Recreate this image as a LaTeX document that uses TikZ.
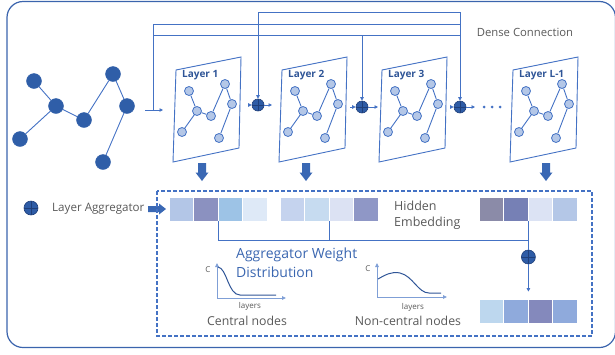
\documentclass[tikz,border=0pt]{standalone}
\usepackage{fontspec}
\setmainfont{Open Sans}
\usetikzlibrary{arrows.meta}
\definecolor{lineblue}{HTML}{4472C4}
\definecolor{nodedark}{HTML}{2F5EA8}
\definecolor{nodelight}{HTML}{B4C7E7}
\definecolor{txtgray}{HTML}{595959}
\definecolor{txtblue}{HTML}{3A66B0}
\definecolor{labblue}{HTML}{2F5597}
\definecolor{aggfill}{HTML}{2E5CA6}
\definecolor{aggdark}{HTML}{1F3F7A}
\definecolor{framecol}{HTML}{3B64AD}
\definecolor{axiscol}{HTML}{7F9FD6}
\definecolor{curvecol}{HTML}{2F5597}
\definecolor{blockcol}{HTML}{3A68B4}
% cell colours
\definecolor{ca1}{HTML}{B3C6E7}\definecolor{ca2}{HTML}{8B91C0}\definecolor{ca3}{HTML}{9DC3E6}\definecolor{ca4}{HTML}{DEE9F7}
\definecolor{cb1}{HTML}{C5D3EE}\definecolor{cb2}{HTML}{C6DBF0}\definecolor{cb3}{HTML}{DCE2F3}\definecolor{cb4}{HTML}{8F97C6}
\definecolor{cc1}{HTML}{8B8BA8}\definecolor{cc2}{HTML}{7680B5}\definecolor{cc3}{HTML}{DCE3F4}\definecolor{cc4}{HTML}{B4C7E7}
\definecolor{cd1}{HTML}{BDD7EE}\definecolor{cd2}{HTML}{8FAADC}\definecolor{cd3}{HTML}{8489BC}\definecolor{cd4}{HTML}{8FAADC}
\begin{document}
\begin{tikzpicture}[x=1pt,y=-1pt,
  bignode/.style={circle,fill=nodedark,draw=nodedark,minimum size=15pt,inner sep=0pt},
  smallnode/.style={circle,fill=nodelight,draw=lineblue,line width=0.8pt,minimum size=9pt,inner sep=0pt},
  gedge/.style={lineblue,line width=0.9pt},
  frameline/.style={lineblue,line width=0.9pt},
  conn/.style={lineblue,line width=0.9pt},
  connarrow/.style={lineblue,line width=0.9pt,-{Triangle[length=3.5pt,width=3.5pt]}},
  agg/.style={circle,minimum size=#1,inner sep=0pt,fill=aggfill,draw=aggdark,line width=0.6pt,
    path picture={\draw[aggdark,line width=0.6pt] (path picture bounding box.north) -- (path picture bounding box.south)
      (path picture bounding box.west) -- (path picture bounding box.east);}},
  agg/.default=12pt,
  layerlabel/.style={font=\fontsize{10}{12}\selectfont\bfseries,text=labblue,inner sep=0pt,anchor=west},
  blockdn/.pic={\fill[blockcol] (-4,0) -- (4,0) -- (4,9.5) -- (6.5,9.5) -- (0,18) -- (-6.5,9.5) -- (-4,9.5) -- cycle;},
  blockrt/.pic={\fill[blockcol] (0,-3) -- (11,-3) -- (11,-5.5) -- (18,0) -- (11,5.5) -- (11,3) -- (0,3) -- cycle;},
  cell/.style={minimum width=24.5pt,minimum height=24pt,inner sep=0pt,draw=white,line width=0.8pt},
  graytext/.style={text=txtgray,inner sep=0pt},
  axis/.style={axiscol,line width=0.9pt,-{Triangle[length=4pt,width=3.5pt]},color=axiscol},
  curve/.style={curvecol,line width=1pt},
  dotnode/.style={circle,fill=lineblue,minimum size=3pt,inner sep=0pt},
]
\useasboundingbox (0,0) rectangle (615,354);
% outer frame
\draw[framecol,line width=1.2pt,rounded corners=16pt] (7,1.5) rectangle (615.5,347.5);

% main graph
\node[bignode] (A) at (34,81) {};
\node[bignode] (B) at (56,106) {};
\node[bignode] (C) at (84,120) {};
\node[bignode] (D) at (113,74) {};
\node[bignode] (E) at (127,106) {};
\node[bignode] (F) at (20,139) {};
\node[bignode] (G) at (103,162) {};
\draw[gedge] (A) -- (B) (B) -- (F) (B) -- (C) (C) -- (D) (D) -- (E) (E) -- (G);

% layers
\foreach \dx/\nm/\lab in {0/1/1, 106/2/2, 206/3/3, 337/4/L-1}{
  \begin{scope}[shift={(\dx,0)}]
    \draw[frameline] (176,70) -- (241,57) -- (239,148) -- (173,162) -- cycle;
    \node[layerlabel] (lab\nm) at (182,75) {Layer \lab};
    \node[smallnode] (l\nm a) at (189,91) {};
    \node[smallnode] (l\nm b) at (197,111) {};
    \node[smallnode] (l\nm c) at (211,116) {};
    \node[smallnode] (l\nm d) at (225,84) {};
    \node[smallnode] (l\nm e) at (232,104) {};
    \node[smallnode] (l\nm f) at (182,132) {};
    \node[smallnode] (l\nm g) at (219,138) {};
    \draw[gedge] (l\nm a) -- (l\nm b) (l\nm b) -- (l\nm f) (l\nm b) -- (l\nm c)
      (l\nm c) -- (l\nm d) (l\nm d) -- (l\nm e) (l\nm e) -- (l\nm g);
  \end{scope}
}

% aggregators in the chain
\node[agg] (ag1) at (258,105) {};
\node[agg] (ag2) at (362,107) {};
\node[agg] (ag3) at (460,107) {};
\coordinate (ag1in) at (248,105); \coordinate (ag1out) at (272,105);
\coordinate (ag2in) at (350,107); \coordinate (ag2out) at (378,107);
\coordinate (ag3in) at (450,107); \coordinate (ag3out) at (475,107);
\draw[connarrow] (ag1in) -- (ag1.west);
\draw[connarrow] (ag1.east) -- (ag1out);
\draw[connarrow] (ag2in) -- (ag2.west);
\draw[connarrow] (ag2.east) -- (ag2out);
\draw[connarrow] (ag3in) -- (ag3.west);
\draw[connarrow] (ag3.east) -- (ag3out);
\node[dotnode] (dt1) at (484,107) {};
\node[dotnode] (dt2) at (492,107) {};
\node[dotnode] (dt3) at (500,107) {};

% dense connections
\coordinate (t12a) at (258,12); \coordinate (t12b) at (460,12);
\coordinate (t24a) at (153,24); \coordinate (t24b) at (460,24);
\coordinate (t35a) at (153,35); \coordinate (t35b) at (460,35);
\coordinate (t35c) at (362,35);
\coordinate (inL) at (145,110); \coordinate (inK) at (153,110); \coordinate (inR) at (163,110);
\draw[conn] (t12a) -- (t12b);
\draw[conn] (t24a) -- (t24b);
\draw[conn] (t35a) -- (t35b);
\draw[conn] (t24a) -- (inK);
\draw[connarrow] (inL) -- (inR);
\draw[connarrow] (t12a) -- (ag1.north);
\draw[connarrow] (t35c) -- (ag2.north);
\draw[connarrow] (t12b) -- (ag3.north);
\node[graytext,font=\fontsize{11.3}{13}\selectfont] (dense) at (525,32) {Dense Connection};

% down block arrows
\pic at (202,163) {blockdn};
\pic at (306,163) {blockdn};
\pic at (546,163) {blockdn};

% legend
\node[agg=14pt] (legagg) at (31,208) {};
\node[graytext,anchor=west,font=\fontsize{11.6}{13}\selectfont] (legtxt) at (52,209) {Layer Aggregator};
\pic at (148,209) {blockrt};

% dashed box
\draw[lineblue,line width=1.1pt,dash pattern=on 4pt off 2pt] (157,191) rectangle (592,336);

% embeddings
\foreach \i/\c in {0/1,1/2,2/3,3/4}{
  \node[cell,fill=ca\c] (ga\c) at ({169+12.25+24.5*\i},209) {};
  \node[cell,fill=cb\c] (gb\c) at ({280+12.25+24.5*\i},209) {};
  \node[cell,fill=cc\c] (gc\c) at ({479+12.25+24.5*\i},209) {};
  \node[cell,fill=cd\c] (gd\c) at ({479+12.25+24.5*\i},311) {};
}
\node[graytext,anchor=west,align=left,font=\fontsize{12.5}{16}\selectfont] (hid) at (394,215) {Hidden\\Embedding};

% bracket
\draw[conn] (ga2.south east) -- ++(0,19) -| (gc2.south east);
\draw[conn] (gb2.south east) -- ++(0,19);
\node[agg=14pt] (aggb) at (gc2.south east |- 0,257) {};
\draw[conn] (gc2.south east) -- (aggb);
\draw[connarrow,shorten >=7pt] (aggb) -- (gd2.north east);

\node[anchor=west,align=left,text=txtblue,inner sep=0pt,font=\fontsize{14}{19}\selectfont] (awd) at (236,262.5) {Aggregator Weight\\Distribution};

% central chart
\coordinate (o1) at (217,298);
\coordinate (y1) at (217,263);
\coordinate (x1) at (286,298);
\draw[axis] (o1) -- (y1);
\draw[axis] (o1) -- (x1);
\draw[curve] (218,267) .. controls (227,268) and (228,295) .. (240,295) -- (276,295);
\node[graytext,font=\fontsize{8}{9}\selectfont] (cc) at (208,270) {C};
\node[graytext,font=\fontsize{8}{9}\selectfont] (lay1) at (250,306) {layers};
\node[graytext,font=\fontsize{12.3}{14}\selectfont] (cn) at (247,321) {Central nodes};

% non-central chart
\coordinate (o2) at (377,297);
\coordinate (y2) at (377,263);
\coordinate (x2) at (447,297);
\draw[axis] (o2) -- (y2);
\draw[axis] (o2) -- (x2);
\draw[curve] (378,279) .. controls (385,275) and (392,271) .. (400,273) .. controls (413,276) and (418,293) .. (429,293) -- (441,293);
\node[graytext,font=\fontsize{8}{9}\selectfont] (cc2) at (368,269) {C};
\node[graytext,font=\fontsize{8}{9}\selectfont] (lay2) at (413,307) {layers};
\node[graytext,font=\fontsize{12.3}{14}\selectfont] (ncn) at (408,321) {Non-central nodes};
\end{tikzpicture}
\end{document}
